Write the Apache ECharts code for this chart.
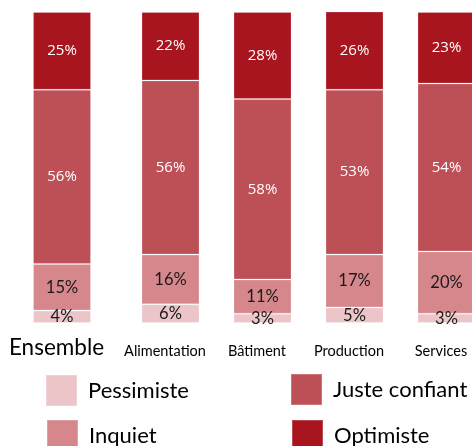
<!DOCTYPE html>
<html>
<head>
<meta charset="utf-8">
<script src="https://cdn.jsdelivr.net/npm/echarts@6/dist/echarts.min.js"></script>
<style>
html,body{margin:0;padding:0;background:#fff;overflow:hidden;width:472px;height:446px;}
#c{width:500px;height:446px;}
</style>
</head>
<body>
<div id="c"></div>
<script>
const categories = ['Ensemble', 'Alimentation', 'Bâtiment', 'Production', 'Services'];
const pessimiste = [4, 6, 3, 5, 3];
const inquiet = [15, 16, 11, 17, 20];
const justeConfiant = [56, 56, 58, 53, 54];
const optimiste = [25, 22, 28, 26, 23];

const seriesDefs = [
  { name: 'Pessimiste', data: pessimiste, color: '#EBC5C8', label: '#1a1a1a', font: 'Lato', size: 16.5 },
  { name: 'Inquiet', data: inquiet, color: '#D5878C', label: '#1a1a1a', font: 'Lato', size: 16.5 },
  { name: 'Juste confiant', data: justeConfiant, color: '#BD4F57', label: '#ffffff', font: 'Open Sans', size: 15 },
  { name: 'Optimiste', data: optimiste, color: '#A8151F', label: '#ffffff', font: 'Open Sans', size: 15 }
];

const chart = echarts.init(document.getElementById('c'), null, { renderer: 'canvas' });

function makeSeries(gridIdx, from, to) {
  return seriesDefs.map(d => ({
    name: d.name,
    type: 'bar',
    stack: 'g' + gridIdx,
    xAxisIndex: gridIdx,
    yAxisIndex: gridIdx,
    barWidth: 58,
    data: d.data.slice(from, to),
    itemStyle: { color: d.color, borderColor: 'rgba(255,255,255,0.22)', borderWidth: 1 },
    label: {
      show: true,
      position: 'inside',
      formatter: '{c}%',
      color: d.label,
      fontFamily: d.font,
      fontSize: d.size
    },
    emphasis: { disabled: true },
    animation: false
  }));
}

const yBase = { type: 'value', min: 0, max: 100, show: false };

function legendItem(name, left, top) {
  return {
    data: [name],
    orient: 'horizontal', left: left, top: top,
    itemWidth: 31, itemHeight: 31,
    icon: 'rect', selectedMode: false, padding: 0,
    textStyle: { fontFamily: 'Lato', fontSize: 22, color: '#000', padding: [0, 0, 0, 6] }
  };
}

const option = {
  animation: false,
  grid: [
    { left: 16, width: 92, top: 12, bottom: 123 },
    { left: 124.5, width: 368, top: 12, bottom: 123 }
  ],
  xAxis: [
    {
      gridIndex: 0, type: 'category', data: categories.slice(0, 1),
      axisLine: { show: false }, axisTick: { show: false },
      axisLabel: { fontFamily: 'Lato', fontSize: 22.5, color: '#000', margin: 13, interval: 0, padding: [0, 11, 0, 0] }
    },
    {
      gridIndex: 1, type: 'category', data: categories.slice(1),
      axisLine: { show: false }, axisTick: { show: false },
      axisLabel: { fontFamily: 'Lato', fontSize: 14.5, color: '#000', margin: 21, interval: 0, padding: [0, 11, 0, 0] }
    }
  ],
  yAxis: [
    Object.assign({ gridIndex: 0 }, yBase),
    Object.assign({ gridIndex: 1 }, yBase)
  ],
  legend: [
    legendItem('Pessimiste', 45, 374),
    legendItem('Inquiet', 46, 419),
    legendItem('Juste confiant', 290, 373),
    legendItem('Optimiste', 291, 419)
  ],
  series: [].concat(makeSeries(0, 0, 1), makeSeries(1, 1, 5))
};

chart.setOption(option);
</script>
</body>
</html>
